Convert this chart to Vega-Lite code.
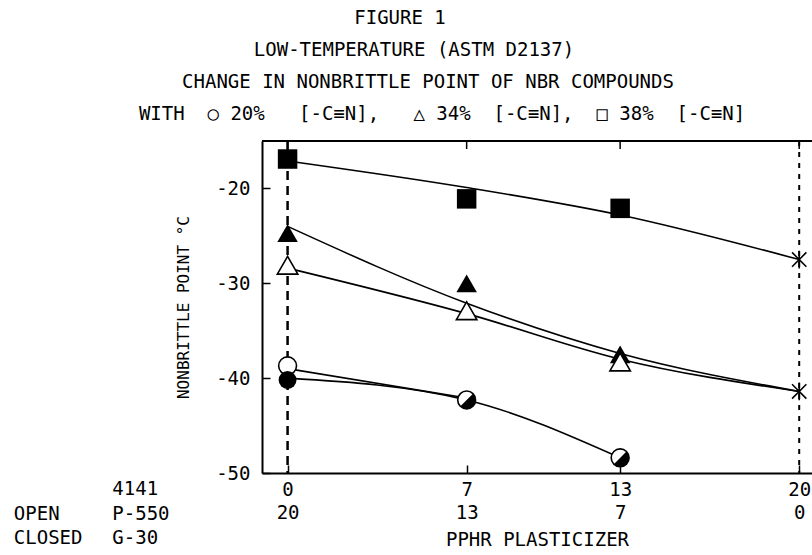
{
  "$schema": "https://vega.github.io/schema/vega-lite/v6.json",
  "width": 550,
  "height": 332,
  "autosize": {"type": "none"},
  "padding": {"left": 262, "top": 141, "right": 0, "bottom": 82},
  "background": "white",
  "config": {
    "view": {"stroke": null},
    "font": "DejaVu Sans Mono",
    "axis": {
      "grid": false,
      "domainColor": "black",
      "domainWidth": 2,
      "tickColor": "black",
      "tickWidth": 1.5,
      "labelColor": "black",
      "labelFont": "DejaVu Sans Mono",
      "labelFontSize": 19,
      "titleColor": "black",
      "titleFont": "DejaVu Sans Mono",
      "titleFontWeight": "normal"
    }
  },
  "title": {
    "text": [
      "FIGURE 1",
      "\u2800\u2800LOW-TEMPERATURE (ASTM D2137)",
      "\u2800\u2800\u2800\u2800CHANGE IN NONBRITTLE POINT OF NBR COMPOUNDS",
      "\u2800\u2800\u2800\u2800\u2800\u2800WITH\u00a0\u00a0○\u00a020%\u00a0\u00a0\u00a0[-C≡N],\u00a0\u00a0\u00a0△\u00a034%\u00a0\u00a0[-C≡N],\u00a0\u00a0□\u00a038%\u00a0\u00a0[-C≡N]"
    ],
    "font": "DejaVu Sans Mono",
    "fontSize": 19,
    "fontWeight": "normal",
    "color": "black",
    "lineHeight": 32,
    "anchor": "middle",
    "dx": -137,
    "offset": 16
  },
  "datasets": {
    "points": [
      {"series": "sq", "pphr": 0, "temp": -16.9},
      {"series": "sq", "pphr": 7, "temp": -21.1},
      {"series": "sq", "pphr": 13, "temp": -22.1},
      {"series": "tri_f", "pphr": 0, "temp": -24.7},
      {"series": "tri_f", "pphr": 7, "temp": -30.0},
      {"series": "tri_f", "pphr": 13, "temp": -37.5},
      {"series": "tri_o", "pphr": 0, "temp": -28.1},
      {"series": "tri_o", "pphr": 7, "temp": -32.9},
      {"series": "tri_o", "pphr": 13, "temp": -38.3},
      {"series": "circ_o", "pphr": 0, "temp": -38.7},
      {"series": "circ_f", "pphr": 0, "temp": -40.2},
      {"series": "circ_h", "pphr": 7, "temp": -42.3},
      {"series": "circ_h", "pphr": 13, "temp": -48.4},
      {"series": "star", "pphr": 20, "temp": -27.5},
      {"series": "star", "pphr": 20, "temp": -41.4}
    ],
    "curves": [
      {"curve": "A", "pphr": 0, "temp": -17.1},
      {"curve": "A", "pphr": 7, "temp": -19.9},
      {"curve": "A", "pphr": 13, "temp": -22.8},
      {"curve": "A", "pphr": 20, "temp": -27.5},
      {"curve": "B", "pphr": 0, "temp": -24.0},
      {"curve": "B", "pphr": 7, "temp": -32.1},
      {"curve": "B", "pphr": 13, "temp": -37.4},
      {"curve": "B", "pphr": 20, "temp": -41.4},
      {"curve": "C", "pphr": 0, "temp": -28.4},
      {"curve": "C", "pphr": 7, "temp": -33.2},
      {"curve": "C", "pphr": 13, "temp": -38.0},
      {"curve": "C", "pphr": 20, "temp": -41.4},
      {"curve": "D", "pphr": 0, "temp": -39.0},
      {"curve": "D", "pphr": 7, "temp": -42.1},
      {"curve": "E", "pphr": 0, "temp": -40.0},
      {"curve": "E", "pphr": 7, "temp": -42.3},
      {"curve": "E", "pphr": 13, "temp": -48.4}
    ],
    "rules": [{"pphr": 0}, {"pphr": 20}],
    "topticks": [{"pphr": 0}, {"pphr": 7}, {"pphr": 13}, {"pphr": 20}],
    "notes": [
      {"col": "keys", "lines": "\nOPEN\nCLOSED"},
      {"col": "vals", "lines": "4141\nP-550\nG-30"}
    ]
  },
  "layer": [
    {
      "data": {"name": "curves"},
      "mark": {"type": "line", "interpolate": "monotone", "color": "black", "strokeWidth": 1.6},
      "encoding": {
        "x": {
          "field": "pphr", "type": "quantitative",
          "scale": {"domain": [-1, 20.5], "nice": false, "zero": false},
          "axis": {
            "orient": "bottom", "values": [0, 7, 13, 20], "tickSize": -8, "labelPadding": 15,
            "labelExpr": "[datum.label, '' + (20 - datum.value)]",
            "labelLineHeight": 23, "labelBaseline": "top",
            "title": "PPHR PLASTICIZER", "titleFontSize": 19, "titlePadding": 8
          }
        },
        "y": {
          "field": "temp", "type": "quantitative",
          "scale": {"domain": [-50, -15], "nice": false, "zero": false},
          "axis": {
            "orient": "left", "values": [-50, -40, -30, -20], "tickSize": -8, "labelPadding": 20,
            "labelExpr": "'' + datum.value",
            "title": "NONBRITTLE POINT °C", "titleFontSize": 16, "titlePadding": 24
          }
        },
        "detail": {"field": "curve"}
      }
    },
    {
      "data": {"name": "rules"},
      "transform": [{"filter": "datum.pphr == 0"}],
      "mark": {"type": "rule", "color": "black", "strokeWidth": 2.5, "strokeDash": [9, 6]},
      "encoding": {
        "x": {"field": "pphr", "type": "quantitative"}
      }
    },
    {
      "data": {"name": "rules"},
      "transform": [{"filter": "datum.pphr == 20"}],
      "mark": {"type": "rule", "color": "black", "strokeWidth": 2, "strokeDash": [5, 6]},
      "encoding": {
        "x": {"field": "pphr", "type": "quantitative"}
      }
    },
    {
      "data": {"name": "topticks"},
      "transform": [{"filter": "datum.pphr == 0"}],
      "mark": {"type": "rule", "color": "black", "strokeWidth": 2},
      "encoding": {
        "y": {"datum": -15, "type": "quantitative"}
      }
    },
    {
      "data": {"name": "topticks"},
      "mark": {"type": "tick", "orient": "vertical", "size": 8, "thickness": 1.5, "yOffset": 4, "color": "black", "opacity": 1},
      "encoding": {
        "x": {"field": "pphr", "type": "quantitative"},
        "y": {"datum": -15, "type": "quantitative"}
      }
    },
    {
      "data": {"name": "points"},
      "transform": [{"filter": "datum.series == 'sq'"}],
      "mark": {"type": "point", "shape": "square", "filled": true, "color": "black", "size": 380, "opacity": 1},
      "encoding": {
        "x": {"field": "pphr", "type": "quantitative"},
        "y": {"field": "temp", "type": "quantitative"}
      }
    },
    {
      "data": {"name": "points"},
      "transform": [{"filter": "datum.series == 'tri_f'"}],
      "mark": {"type": "point", "shape": "triangle-up", "filled": true, "color": "black", "size": 420, "opacity": 1},
      "encoding": {
        "x": {"field": "pphr", "type": "quantitative"},
        "y": {"field": "temp", "type": "quantitative"}
      }
    },
    {
      "data": {"name": "points"},
      "transform": [{"filter": "datum.series == 'tri_o'"}],
      "mark": {"type": "point", "shape": "triangle-up", "filled": true, "fill": "white", "stroke": "black", "strokeWidth": 1.6, "size": 420, "opacity": 1},
      "encoding": {
        "x": {"field": "pphr", "type": "quantitative"},
        "y": {"field": "temp", "type": "quantitative"}
      }
    },
    {
      "data": {"name": "points"},
      "transform": [{"filter": "datum.series == 'circ_o' || datum.series == 'circ_h'"}],
      "mark": {"type": "point", "shape": "circle", "filled": true, "fill": "white", "stroke": "black", "strokeWidth": 1.6, "size": 320, "opacity": 1},
      "encoding": {
        "x": {"field": "pphr", "type": "quantitative"},
        "y": {"field": "temp", "type": "quantitative"}
      }
    },
    {
      "data": {"name": "points"},
      "transform": [{"filter": "datum.series == 'circ_h'"}],
      "mark": {"type": "point", "shape": "M -0.707 0.707 A 1 1 0 0 0 0.707 -0.707 Z", "filled": true, "color": "black", "size": 320, "opacity": 1},
      "encoding": {
        "x": {"field": "pphr", "type": "quantitative"},
        "y": {"field": "temp", "type": "quantitative"}
      }
    },
    {
      "data": {"name": "points"},
      "transform": [{"filter": "datum.series == 'circ_f'"}],
      "mark": {"type": "point", "shape": "circle", "filled": true, "color": "black", "size": 320, "opacity": 1},
      "encoding": {
        "x": {"field": "pphr", "type": "quantitative"},
        "y": {"field": "temp", "type": "quantitative"}
      }
    },
    {
      "data": {"name": "points"},
      "transform": [{"filter": "datum.series == 'star'"}],
      "mark": {"type": "point", "shape": "M -0.8 -0.8 L 0.8 0.8 M -0.8 0.8 L 0.8 -0.8 M 0 -1 L 0 1", "filled": false, "stroke": "black", "strokeWidth": 1.6, "size": 320, "opacity": 1},
      "encoding": {
        "x": {"field": "pphr", "type": "quantitative"},
        "y": {"field": "temp", "type": "quantitative"}
      }
    },
    {
      "data": {"name": "notes"},
      "transform": [{"filter": "datum.col == 'keys'"}],
      "mark": {"type": "text", "align": "left", "baseline": "middle", "fontSize": 19, "lineHeight": 24.5, "lineBreak": "\n", "color": "black"},
      "encoding": {
        "x": {"datum": -10.7, "type": "quantitative"},
        "y": {"datum": -51.7, "type": "quantitative"},
        "text": {"field": "lines"}
      }
    },
    {
      "data": {"name": "notes"},
      "transform": [{"filter": "datum.col == 'vals'"}],
      "mark": {"type": "text", "align": "left", "baseline": "middle", "fontSize": 19, "lineHeight": 24.5, "lineBreak": "\n", "color": "black"},
      "encoding": {
        "x": {"datum": -6.85, "type": "quantitative"},
        "y": {"datum": -51.7, "type": "quantitative"},
        "text": {"field": "lines"}
      }
    }
  ]
}
